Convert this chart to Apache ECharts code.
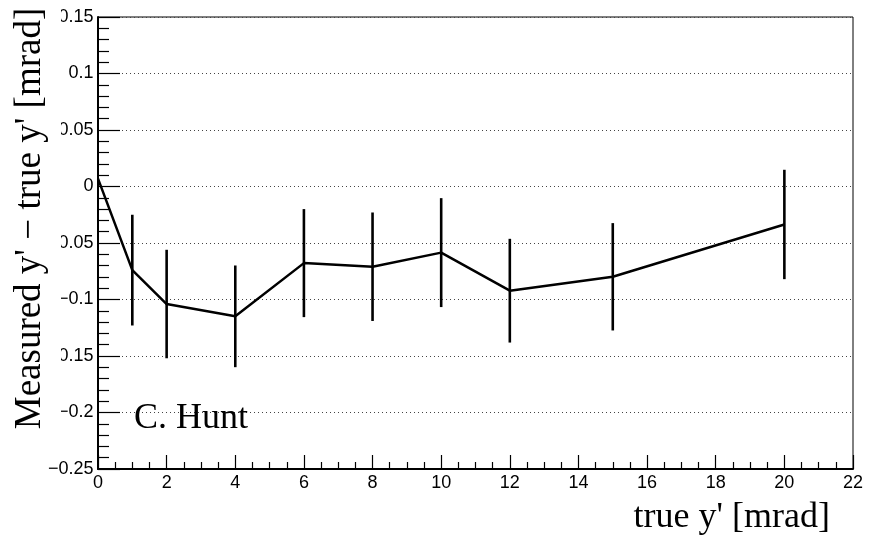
<!DOCTYPE html>
<html>
<head>
<meta charset="utf-8">
<script src="https://cdn.jsdelivr.net/npm/echarts@6/dist/echarts.min.js"></script>
<style>
  html, body { margin: 0; padding: 0; background: #fff; }
  #chart { width: 870px; height: 537px; }
</style>
</head>
<body>
<div id="chart"></div>
<script>
// true y' values [mrad]
const trueY = [0, 1, 2, 4, 6, 8, 10, 12, 15, 20];
// measured y' - true y' [mrad]
const residual = [0.007, -0.074, -0.104, -0.1149, -0.0678, -0.071, -0.0585, -0.0922, -0.0799, -0.0336];
// symmetric uncertainties on the residual [mrad]
const residualErr = [0, 0.049, 0.048, 0.045, 0.0478, 0.048, 0.0482, 0.0459, 0.0475, 0.0484];

const xTitle = "true y' [mrad]";
const yTitle = "Measured y' \u2212 true y' [mrad]";
const author = 'C. Hunt';

const serif = '"Liberation Serif", "DejaVu Serif", serif';
const sans = '"Liberation Sans", Arial, sans-serif';

const linePoints = trueY.map((x, i) => [x, residual[i]]);
const errPoints = trueY.map((x, i) => [x, residual[i] - residualErr[i], residual[i] + residualErr[i]]);

function fmtY(v) {
  const s = String(+v.toFixed(3));
  return s.replace('-', '\u2212');
}

const chart = echarts.init(document.getElementById('chart'), null, { renderer: 'canvas' });

chart.setOption({
  animation: false,
  backgroundColor: '#ffffff',
  grid: {
    left: 98, right: 17, top: 17, bottom: 68,
    show: true, borderColor: '#000', borderWidth: 1, backgroundColor: 'transparent'
  },
  xAxis: {
    type: 'value',
    min: 0, max: 22, interval: 2,
    axisLine: { show: true, onZero: false, lineStyle: { color: '#000', width: 2 } },
    axisTick: { show: true, inside: true, length: 14, lineStyle: { color: '#000', width: 1.2 } },
    minorTick: { show: true, splitNumber: 4, length: 7, lineStyle: { color: '#000', width: 1.2 } },
    axisLabel: { color: '#000', fontFamily: sans, fontSize: 18, margin: 5, showMinLabel: true, showMaxLabel: true },
    splitLine: { show: false }
  },
  yAxis: {
    type: 'value',
    min: -0.25, max: 0.15, interval: 0.05,
    axisLine: { show: true, onZero: false, lineStyle: { color: '#000', width: 2 } },
    axisTick: { show: true, inside: true, length: 22, lineStyle: { color: '#000', width: 1.2 } },
    minorTick: { show: true, splitNumber: 5, length: 11, lineStyle: { color: '#000', width: 1.2 } },
    axisLabel: { color: '#000', fontFamily: sans, fontSize: 18, margin: 4.5, formatter: fmtY },
    splitLine: { show: true, lineStyle: { color: '#444', width: 1, type: [1, 3] } }
  },
  series: [
    {
      type: 'line',
      data: linePoints,
      showSymbol: false,
      symbol: 'none',
      lineStyle: { color: '#000', width: 2.5 },
      z: 3
    },
    {
      type: 'custom',
      data: errPoints,
      encode: { x: 0, y: [1, 2] },
      renderItem: function (params, api) {
        const lo = api.value(1), hi = api.value(2);
        if (hi - lo <= 0) return null;
        const p1 = api.coord([api.value(0), lo]);
        const p2 = api.coord([api.value(0), hi]);
        return {
          type: 'line',
          shape: { x1: p1[0], y1: p1[1], x2: p2[0], y2: p2[1] },
          style: { stroke: '#000', lineWidth: 2.6 }
        };
      },
      z: 4
    }
  ],
  graphic: [
    // white panel behind the vertical axis title
    {
      type: 'rect', z: 100,
      shape: { x: 0, y: 0, width: 61, height: 440 },
      style: { fill: '#fff' }
    },
    {
      type: 'text', z: 101,
      x: 30.5, y: 218.5, rotation: Math.PI / 2,
      style: { text: yTitle, font: '37px ' + serif, fill: '#000', align: 'center', verticalAlign: 'middle' }
    },
    {
      type: 'text', z: 101,
      x: 830, y: 518,
      style: { text: xTitle, font: '36px ' + serif, fill: '#000', align: 'right', verticalAlign: 'middle' }
    },
    {
      type: 'text', z: 101,
      x: 134, y: 419,
      style: { text: author, font: '36px ' + serif, fill: '#000', align: 'left', verticalAlign: 'middle' }
    }
  ]
});
</script>
</body>
</html>
